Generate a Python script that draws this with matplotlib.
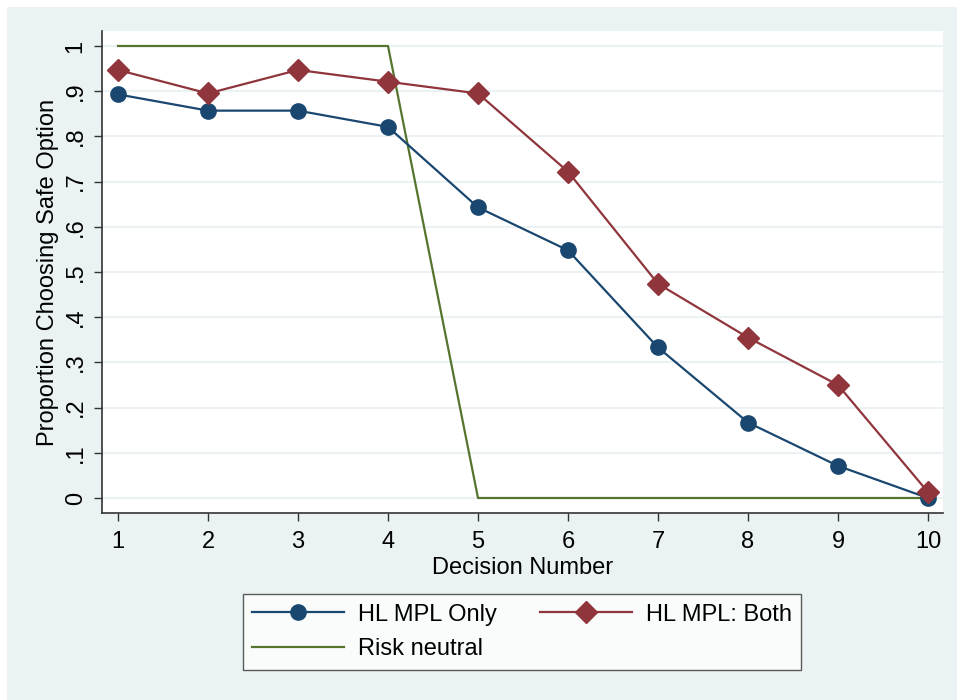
import numpy as np
import matplotlib
matplotlib.use("Agg")
import matplotlib.pyplot as plt
from matplotlib.patches import Rectangle

# data
decisions = [1, 2, 3, 4, 5, 6, 7, 8, 9, 10]
hl_only = [0.893, 0.857, 0.857, 0.821, 0.643, 0.548, 0.333, 0.167, 0.071, 0.0]
hl_both = [0.947, 0.895, 0.947, 0.921, 0.895, 0.722, 0.474, 0.355, 0.250, 0.013]
risk_neutral = [1, 1, 1, 1, 0, 0, 0, 0, 0, 0]
yticks = [0, .1, .2, .3, .4, .5, .6, .7, .8, .9, 1]
ytick_labels = ["0", ".1", ".2", ".3", ".4", ".5", ".6", ".7", ".8", ".9", "1"]

NAVY, MAROON, GREEN = "#1a476f", "#90353b", "#55752f"
BG = "#eaf2f3"

plt.rcParams["font.family"] = ["Liberation Sans", "DejaVu Sans"]

W, H = 957, 700
fig = plt.figure(figsize=(W / 100, H / 100), dpi=100, facecolor="white")
fig.patches.append(Rectangle((7 / W, 0), 1, 1 - 7 / H, transform=fig.transFigure,
                             facecolor=BG, edgecolor="none", zorder=-10))

ax = fig.add_axes([102 / W, 1 - 513 / H, (943 - 102) / W, (513 - 31) / H])
ax.set_facecolor("white")
for s in ["top", "right"]:
    ax.spines[s].set_visible(False)
for s in ["left", "bottom"]:
    ax.spines[s].set_color("#333333")
    ax.spines[s].set_linewidth(1.2)

ax.set_xlim(1 - 16 / 90, 10 + 15 / 90)
ax.set_ylim(-15 / 452, 1 + 15 / 452)
ax.set_yticks(yticks)
ax.set_yticklabels(ytick_labels, rotation=90, va="center")
ax.set_xticks(decisions)
ax.tick_params(direction="out", length=6, width=1, color="#333333", labelsize=17)
ax.tick_params(axis="x", pad=7)
ax.tick_params(axis="y", pad=5)
ax.grid(axis="y", color=BG, linewidth=1.5)
ax.set_axisbelow(True)

h1, = ax.plot(decisions, hl_only, color=NAVY, lw=1.6, marker="o", ms=11, label="HL MPL Only", zorder=3)
h2, = ax.plot(decisions, hl_both, color=MAROON, lw=1.6, marker="D", ms=11, label="HL MPL: Both", zorder=3)
h3, = ax.plot(decisions, risk_neutral, color=GREEN, lw=1.6, label="Risk neutral", zorder=2)

ax.set_xlabel("Decision Number", fontsize=17, labelpad=3)
ax.set_ylabel("Proportion Choosing Safe Option", fontsize=17, labelpad=4)

leg = fig.legend([h1, h3, h2], ["HL MPL Only", "Risk neutral", "HL MPL: Both"],
                 loc="center", bbox_to_anchor=(522 / W, 1 - 632 / H), ncol=2, fontsize=17,
                 handlelength=3.9, handletextpad=0.6, frameon=True, fancybox=False,
                 borderpad=0.4, columnspacing=1.8, labelspacing=0.55)
leg.get_frame().set_edgecolor("#333333")
leg.get_frame().set_linewidth(1)

fig.savefig("out.png", dpi=100, facecolor=fig.get_facecolor())
